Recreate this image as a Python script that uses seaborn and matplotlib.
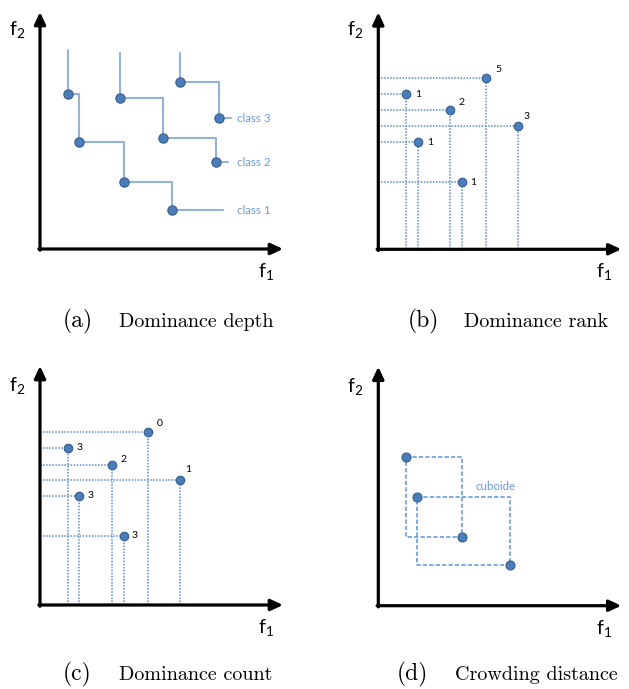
import matplotlib
matplotlib.use("Agg")
import matplotlib.pyplot as plt
import seaborn as sns
import numpy as np

sns.set_theme(style="white")
plt.rcParams["font.family"] = ["Lato", "DejaVu Sans"]
plt.rcParams["mathtext.default"] = "regular"

# ---------------- data (local panel units) ----------------
# (a) dominance depth: three fronts
class1_x = [28, 39, 84, 132]
class1_y = [155, 107, 67, 39]
class2_x = [80, 123, 176]
class2_y = [151, 111, 87]
class3_x = [140, 179]
class3_y = [167, 131]
class_names = ["class 1", "class 2", "class 3"]

# (b) dominance rank
rank_x = [28, 40, 72, 84, 108, 140]
rank_y = [155, 107, 139, 67, 171, 123]
rank_labels = ["1", "1", "2", "1", "5", "3"]

# (c) dominance count
count_x = [28, 39, 72, 84, 108, 140]
count_y = [157, 109, 140, 69, 173, 125]
count_labels = ["3", "3", "2", "3", "0", "1"]

# (d) crowding distance
crowd_x = [28, 39, 84, 132]
crowd_y = [149, 109, 69, 41]
cuboid_label = "cuboide"

captions = [("(a)", "Dominance depth"), ("(b)", "Dominance rank"),
            ("(c)", "Dominance count"), ("(d)", "Crowding distance")]

# ---------------- styling ----------------
PT_FILL = "#4a7ebb"
PT_EDGE = "#385d8a"
STAIR = "#95b3d7"
LBL = "#6a9ae0"
DOT = "#5a8ad0"
DASH = "#5b93d5"

W, H = 245, 240
FW, FH = 629, 689
fig = plt.figure(figsize=(FW / 100, FH / 100), dpi=100)
fig.patch.set_facecolor("white")

origins = [(40, 249), (378.3, 249.3), (40, 605), (378.3, 605.7)]
axes = []
for ox, oy in origins:
    ax = fig.add_axes([ox / FW, (FH - oy) / FH, W / FW, H / FH])
    ax.set_xlim(0, W)
    ax.set_ylim(0, H)
    ax.set_axis_off()
    axes.append(ax)


def draw_frame(ax, ytop):
    arrow = dict(arrowstyle="-|>,head_length=0.6,head_width=0.28", lw=2.3,
                 color="black", shrinkA=0, shrinkB=0)
    ax.annotate("", xy=(243, 0), xytext=(-1.2, 0), arrowprops=arrow,
                annotation_clip=False)
    ax.annotate("", xy=(0, ytop), xytext=(0, -1.2), arrowprops=arrow,
                annotation_clip=False)
    ax.text(-31, 214, "f$_2$", fontsize=14, color="black", ha="left",
            va="baseline", family=["Lato", "DejaVu Sans"])
    ax.text(218, -28, "f$_1$", fontsize=14, color="black", ha="left",
            va="baseline", family=["Lato", "DejaVu Sans"])


def scatter(ax, x, y, s):
    sns.scatterplot(x=x, y=y, ax=ax, s=s, color=PT_FILL, edgecolor=PT_EDGE,
                    linewidth=0.8, zorder=4, clip_on=False, legend=False)


# ---- (a)
ax = axes[0]
draw_frame(ax, 237)
fronts = [(class1_x, class1_y, 199, 183), (class2_x, class2_y, 196, 188),
          (class3_x, class3_y, 196, 191)]
for (fx, fy, top, end), name in zip(fronts, class_names):
    sx = [fx[0]] + list(fx) + [end]
    sy = [top] + list(fy) + [fy[-1]]
    ax.step(sx, sy, where="post", color=STAIR, lw=1.5, zorder=2)
    ax.text(197, fy[-1], name, fontsize=8.3, color=LBL, ha="left",
            va="center")
    scatter(ax, fx, fy, 45)

# ---- (b) and (c)
offs_b = [(12, 0), (12, 0), (11, 8), (11, 0), (12, 9), (8, 10)]
offs_c = [(12, 0), (12, 0), (11, 6), (11, 0), (12, 9), (8, 10)]
for ax, px, py, labs, offs in [(axes[1], rank_x, rank_y, rank_labels, offs_b),
                              (axes[2], count_x, count_y, count_labels, offs_c)]:
    draw_frame(ax, 237 if ax is axes[1] else 239)
    ax.hlines(py, 0, px, colors=DOT, lw=1.1, linestyles=(0, (1, 1)), zorder=2)
    ax.vlines(px, 0, py, colors=DOT, lw=1.1, linestyles=(0, (1, 1)), zorder=2)
    scatter(ax, px, py, 38)
    for x, y, t, (dx, dy) in zip(px, py, labs, offs):
        ax.text(x + dx, y + dy, t, fontsize=7.5, color="black", ha="center",
                va="center")

# ---- (d)
ax = axes[3]
draw_frame(ax, 239)
for i, j in [(0, 2), (1, 3)]:
    x0, x1 = crowd_x[i], crowd_x[j]
    y0, y1 = crowd_y[i], crowd_y[j]
    ax.plot([x0, x1, x1, x0, x0], [y0, y0, y1, y1, y0], color=DASH, lw=1.1,
            linestyle=(0, (2.8, 1.4)), zorder=2)
scatter(ax, crowd_x, crowd_y, 42)
ax.text(117, 119, cuboid_label, fontsize=8.3, color=LBL, ha="center",
        va="center")

# ---- captions
cap_pos = [(63, 110, 283, 327), (408, 456, 617, 327),
           (63, 110, 282, 680), (397, 446, 627, 680)]
for (tag, name), (xt, xs, xe, yb) in zip(captions, cap_pos):
    fig.text(xt / FW, 1 - yb / FH, tag, fontsize=17, family="cmr10",
             ha="left", va="baseline", color="black")
    fig.text((xs + xe) / 2 / FW, 1 - yb / FH, name, fontsize=14.5,
             family="cmr10", ha="center", va="baseline", color="black")

fig.savefig("out.png", dpi=100, facecolor="white")
